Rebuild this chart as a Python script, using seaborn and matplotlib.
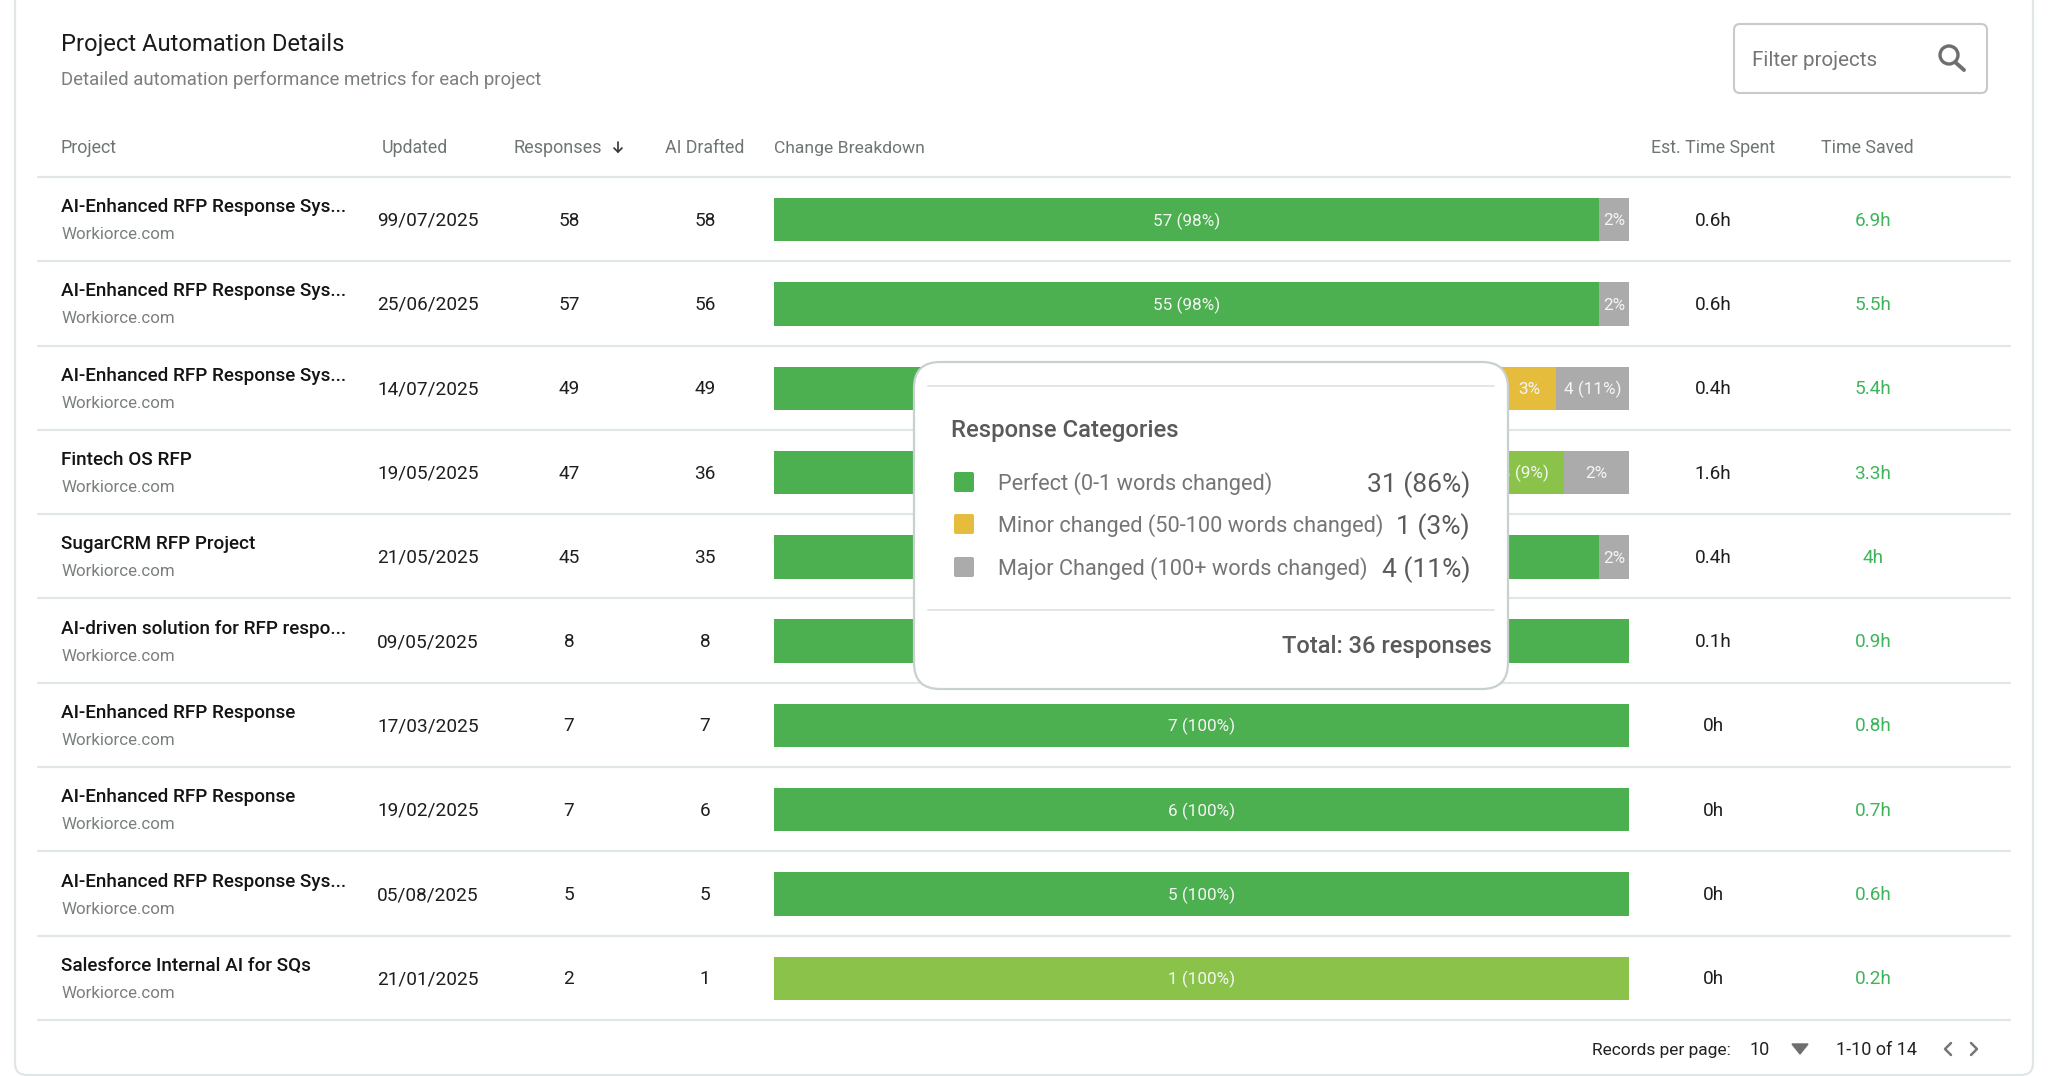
import matplotlib
matplotlib.use("Agg")
import matplotlib.pyplot as plt
from matplotlib.patches import FancyBboxPatch, Polygon, Circle
import pandas as pd
import seaborn as sns

# table contents
projects = ["AI-Enhanced RFP Response Sys...", "AI-Enhanced RFP Response Sys...", "AI-Enhanced RFP Response Sys...",
            "Fintech OS RFP", "SugarCRM RFP Project", "AI-driven solution for RFP respo...",
            "AI-Enhanced RFP Response", "AI-Enhanced RFP Response", "AI-Enhanced RFP Response Sys...",
            "Salesforce Internal AI for SQs"]
updated = ["99/07/2025", "25/06/2025", "14/07/2025", "19/05/2025", "21/05/2025",
           "09/05/2025", "17/03/2025", "19/02/2025", "05/08/2025", "21/01/2025"]
responses = [58, 57, 49, 47, 45, 8, 7, 7, 5, 2]
ai_drafted = [58, 56, 49, 36, 35, 8, 7, 6, 5, 1]
time_spent = ["0.6h", "0.6h", "0.4h", "1.6h", "0.4h", "0.1h", "0h", "0h", "0h", "0h"]
time_saved = ["6.9h", "5.5h", "5.4h", "3.3h", "4h", "0.9h", "0.8h", "0.7h", "0.6h", "0.2h"]

# widths of the bar segments, as share of the full bar
perfect = [96.5, 96.5, 85.2, 83.3, 96.5, 100, 100, 100, 100, 0]
good = [0, 0, 0, 9.1, 0, 0, 0, 0, 0, 100]
minor = [0, 0, 6.3, 0, 0, 0, 0, 0, 0, 0]
major = [3.5, 3.5, 8.5, 7.6, 3.5, 0, 0, 0, 0, 0]

# labels that sit behind the popup are left out
perfect_labels = ["57 (98%)", "55 (98%)", "", "", "", "", "7 (100%)", "6 (100%)", "5 (100%)", ""]
good_labels = ["", "", "", "3 (9%)", "", "", "", "", "", "1 (100%)"]
minor_labels = ["", "", "3%", "", "", "", "", "", "", ""]
major_labels = ["2%", "2%", "4 (11%)", "2%", "2%", "", "", "", "", ""]

headers = ["Project", "Updated", "Responses", "AI Drafted", "Change Breakdown", "Est. Time Spent", "Time Saved"]
legend_names = ["Perfect (0-1 words changed)", "Minor changed (50-100 words changed)", "Major Changed (100+ words changed)"]
legend_values = ["31 (86%)", "1 (3%)", "4 (11%)"]

GREEN, LIGHT, YELLOW, GRAY = "#4CAF50", "#8BC34A", "#E5BC3C", "#ABABAB"
LINE = "#E1E6E7"

sns.set_theme(style="white")
plt.rcParams["font.family"] = ["Roboto", "DejaVu Sans"]

fig = plt.figure(figsize=(20.48, 10.76), dpi=100, facecolor="white")

# overlay in pixel coordinates for the table text and the popup
ax = fig.add_axes([0, 0, 1, 1], zorder=2)
ax.set_xlim(0, 2048)
ax.set_ylim(1076, 0)
ax.axis("off")

top, row_h = 177, 84.3
row_y = [top + row_h * (i + 0.5) for i in range(len(projects))]

# stacked bars: cumulative ends drawn longest first
row_ids = list(range(len(projects)))
rows = []
for i in row_ids:
    rows.append({"row": i, "seg": "major", "end": perfect[i] + good[i] + minor[i] + major[i]})
    rows.append({"row": i, "seg": "minor", "end": perfect[i] + good[i] + minor[i]})
    rows.append({"row": i, "seg": "good", "end": perfect[i] + good[i]})
    rows.append({"row": i, "seg": "perfect", "end": perfect[i]})
bars = pd.DataFrame(rows)

ax_bars = fig.add_axes([774 / 2048, 1 - 1020.5 / 1076, (1629 - 774) / 2048, (1020 - 177) / 1076], zorder=1)
sns.barplot(data=bars, y="row", x="end", hue="seg", hue_order=["major", "minor", "good", "perfect"],
            palette={"major": GRAY, "minor": YELLOW, "good": LIGHT, "perfect": GREEN},
            order=row_ids, orient="h", dodge=False, width=0.515, errorbar=None, legend=False,
            saturation=1, linewidth=0, ax=ax_bars)
ax_bars.set_xlim(0, 100)
ax_bars.set_ylim(9.5, -0.5)
ax_bars.axis("off")

for i in row_ids:
    start = 0
    for width, label in [(perfect[i], perfect_labels[i]), (good[i], good_labels[i]),
                         (minor[i], minor_labels[i]), (major[i], major_labels[i])]:
        if label:
            ax_bars.text(start + width / 2, i + 0.015, label, color="#F4F6F4", fontsize=12.3,
                         ha="center", va="center")
        start += width

# card and title
ax.add_patch(FancyBboxPatch((15, -10), 2018, 1085, boxstyle="round,pad=0,rounding_size=12",
                            fc="none", ec=LINE, lw=1.6, zorder=0))
ax.text(61, 45, "Project Automation Details", fontsize=17.1, color="#1B1B1B", va="center")
ax.text(61, 80, "Detailed automation performance metrics for each project", fontsize=13.45, color="#7A7F7F", va="center")

# filter box
ax.add_patch(FancyBboxPatch((1734, 24), 253, 69, boxstyle="round,pad=0,rounding_size=6",
                            fc="white", ec="#C9C9C9", lw=1.5))
ax.text(1752, 60.5, "Filter projects", fontsize=14.85, color="#757575", va="center")
ax.add_patch(Circle((1949, 55), 9, fc="none", ec="#6E6E6E", lw=2.4))
ax.plot([1955, 1964], [62, 70], color="#6E6E6E", lw=2.8)

# header row
ax.text(61, 148, headers[0], fontsize=12.9, color="#6F7575", va="center")
ax.text(415, 148, headers[1], fontsize=12.8, color="#6F7575", va="center", ha="center")
ax.text(558, 148, headers[2], fontsize=13, color="#6F7575", va="center", ha="center")
ax.plot([618, 618], [142, 152], color="#333333", lw=1.2)
ax.plot([614, 618, 622], [148, 152, 148], color="#333333", lw=1.2)
ax.text(705, 148, headers[3], fontsize=12.8, color="#6F7575", va="center", ha="center")
ax.text(774, 148, headers[4], fontsize=12.6, color="#6F7575", va="center")
ax.text(1713, 148, headers[5], fontsize=12.8, color="#6F7575", va="center", ha="center")
ax.text(1867, 148, headers[6], fontsize=12.8, color="#6F7575", va="center", ha="center")

# rows
for i, y in enumerate(row_y):
    ax.plot([38, 2010], [y + row_h / 2, y + row_h / 2], color=LINE, lw=1.6, zorder=0.5)
    ax.text(61, y - 12, projects[i], fontsize=13.6, color="#141414", fontweight=500, va="center")
    ax.text(61, y + 15.5, "Workiorce.com", fontsize=12.2, color="#7A7F7F", va="center")
    ax.text(428, y + 1.5, updated[i], fontsize=13.7, color="#1E1E1E", va="center", ha="center")
    ax.text(569, y + 1.5, str(responses[i]), fontsize=13.7, color="#1E1E1E", va="center", ha="center")
    ax.text(705, y + 1.5, str(ai_drafted[i]), fontsize=13.7, color="#1E1E1E", va="center", ha="center")
    ax.text(1713, y + 1.5, time_spent[i], fontsize=13.7, color="#1E1E1E", va="center", ha="center")
    ax.text(1873, y + 1.5, time_saved[i], fontsize=13.7, color="#3DB55A", va="center", ha="center")
ax.plot([38, 2010], [top, top], color=LINE, lw=1.6, zorder=0.5)

# pagination
ax.text(1592, 1050, "Records per page:", fontsize=12.5, color="#222222", va="center")
ax.text(1760, 1050, "10", fontsize=13, color="#222222", va="center", ha="center")
ax.add_patch(Polygon([[1792, 1044], [1808, 1044], [1800, 1054]], closed=True, fc="#6E6E6E", ec="#6E6E6E", lw=1))
ax.text(1877, 1050, "1-10 of 14", fontsize=13, color="#222222", va="center", ha="center")
ax.plot([1951, 1945, 1951], [1043, 1049, 1055], color="#777777", lw=1.8)
ax.plot([1971, 1977, 1971], [1043, 1049, 1055], color="#777777", lw=1.8)

# popup
ax.add_patch(FancyBboxPatch((914, 362), 594, 327, boxstyle="round,pad=0,rounding_size=26",
                            fc="white", ec="#C8D0D1", lw=1.6, zorder=5))
ax.plot([928, 1494], [386, 386], color=LINE, lw=1.4, zorder=6)
ax.plot([928, 1494], [610, 610], color=LINE, lw=1.4, zorder=6)
ax.text(951, 430, "Response Categories", fontsize=17.2, fontweight=500, color="#5A5A5A", va="center", zorder=6)
for y, col, name, val in zip([482, 524, 567], [GREEN, YELLOW, GRAY], legend_names, legend_values):
    ax.add_patch(FancyBboxPatch((954, y - 10), 20, 20, boxstyle="round,pad=0,rounding_size=2", fc=col, ec="none", zorder=6))
    ax.text(998, y + 2, name, fontsize=15.7, color="#757575", va="center", zorder=6)
    ax.text(1470, y + 2.5, val, fontsize=19, color="#5A5A5A", va="center", ha="right", zorder=6)
ax.text(1492, 647, "Total: 36 responses", fontsize=17, fontweight=500, color="#5A5A5A", va="center", ha="right", zorder=6)

fig.savefig("out.png", dpi=100, facecolor="white")
